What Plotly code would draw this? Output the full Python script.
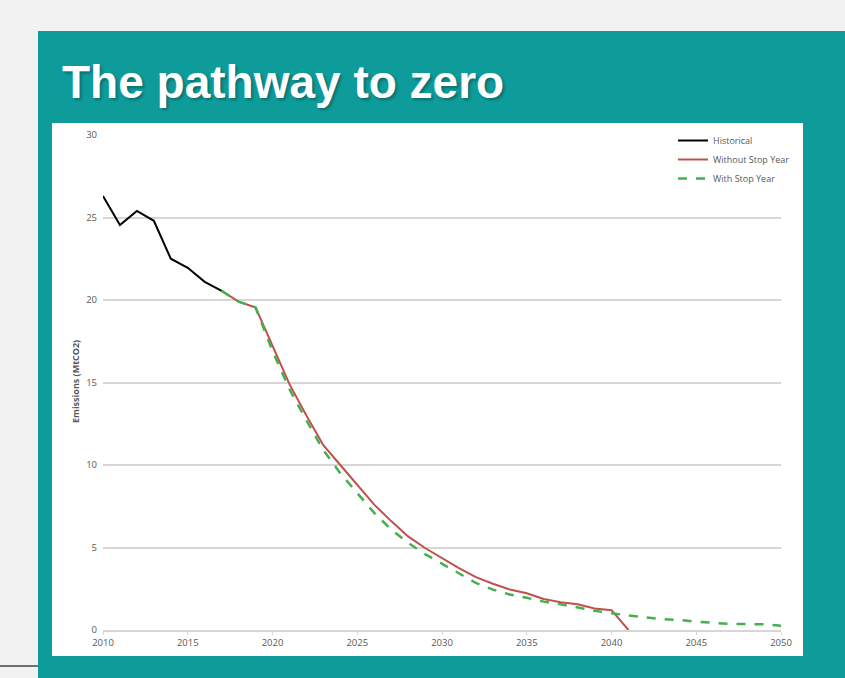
import plotly.graph_objects as go

# ---- data ----
hist_years = [2010, 2011, 2012, 2013, 2014, 2015, 2016, 2017]
hist_vals = [26.3, 24.55, 25.4, 24.8, 22.5, 21.95, 21.1, 20.55]

without_years = list(range(2017, 2042))
without_vals = [20.55, 19.9, 19.55, 17.2, 14.9, 13.0, 11.2, 10.0, 8.8, 7.6, 6.6, 5.67,
                4.97, 4.36, 3.75, 3.2, 2.8, 2.45, 2.23, 1.88, 1.68, 1.56, 1.3, 1.2, 0.0]

with_years = list(range(2017, 2051))
with_vals = [20.55, 19.9, 19.55, 16.9, 14.6, 12.7, 10.9, 9.5, 8.3, 7.1, 6.1, 5.28,
             4.6, 4.0, 3.4, 2.85, 2.45, 2.15, 1.95, 1.72, 1.56, 1.36, 1.17, 1.01,
             0.87, 0.76, 0.65, 0.61, 0.5, 0.42, 0.37, 0.36, 0.35, 0.26]

x_ticks = [2010, 2015, 2020, 2025, 2030, 2035, 2040, 2045, 2050]
y_ticks = [0, 5, 10, 15, 20, 25, 30]

TEAL = "#0e9c9b"
GRID = "#d6d6d6"
TXT = "#595959"

# pixel helpers (plot area: x 103..781, y 135..630)
L, R, T, B = 103, 781, 135, 630
def px(x):
    return (x - L) / (R - L)
def py(y):
    return (B - y) / (B - T)

fig = go.Figure()
fig.add_trace(go.Scatter(x=hist_years, y=hist_vals, mode="lines", name="Historical",
                         line=dict(color="#000000", width=2)))
fig.add_trace(go.Scatter(x=without_years, y=without_vals, mode="lines", name="Without Stop Year",
                         line=dict(color="#c0504d", width=2)))
fig.add_trace(go.Scatter(x=with_years, y=with_vals, mode="lines", name="With Stop Year",
                         line=dict(color="#45b04f", width=2.5, dash="dash")))

shapes = [
    dict(type="rect", xref="paper", yref="paper", x0=px(38), x1=px(850), y0=py(31), y1=py(690),
         fillcolor=TEAL, line=dict(width=0), layer="below"),
    dict(type="rect", xref="paper", yref="paper", x0=px(52), x1=px(803), y0=py(123), y1=py(656),
         fillcolor="white", line=dict(width=0), layer="below"),
    dict(type="line", xref="paper", yref="paper", x0=px(-5), x1=px(38), y0=py(666), y1=py(666),
         line=dict(color="#444444", width=1.5), layer="below"),
]

annotations = [
    dict(text="<b>The pathway to zero</b>", xref="paper", yref="paper", x=px(60), y=py(82),
         xanchor="left", yanchor="middle", showarrow=False,
         font=dict(family="Liberation Sans, Arial, sans-serif", size=46, color="white",
                   shadow="2px 2px 3px rgba(0,0,0,0.3)")),
    dict(text="<b>Emissions (MtCO2)</b>", xref="paper", yref="paper", x=px(75), y=py(382),
         xanchor="center", yanchor="middle", showarrow=False, textangle=-90,
         font=dict(family="Open Sans, sans-serif", size=9, color=TXT)),
]

fig.update_layout(
    width=845, height=678,
    margin=dict(l=L, r=845 - R, t=T, b=678 - B),
    paper_bgcolor="#f2f2f2",
    plot_bgcolor="rgba(0,0,0,0)",
    shapes=shapes,
    annotations=annotations,
    font=dict(family="Open Sans, sans-serif", size=9, color=TXT),
    showlegend=True,
    legend=dict(x=px(673), y=py(126), xanchor="left", yanchor="top",
                bgcolor="rgba(0,0,0,0)", font=dict(size=9, color=TXT),
                tracegroupgap=0),
    xaxis=dict(range=[2010, 2050], tickvals=x_ticks, ticktext=[str(v) for v in x_ticks],
               showgrid=False, zeroline=False, showline=True, linecolor=GRID, linewidth=1.6,
               ticks="outside", ticklen=3, tickcolor=GRID, tickwidth=1,
               tickfont=dict(size=9.5, color=TXT), fixedrange=True),
    yaxis=dict(range=[0, 30], tickvals=y_ticks, showgrid=True, gridcolor=GRID, gridwidth=1.6,
               zeroline=False, showline=False, ticks="", ticklabelstandoff=5,
               tickfont=dict(size=9.5, color=TXT), fixedrange=True),
)

fig.write_html("out.html", config={"displayModeBar": False},
               post_script="document.body.style.margin='0';document.body.style.overflow='hidden';")
